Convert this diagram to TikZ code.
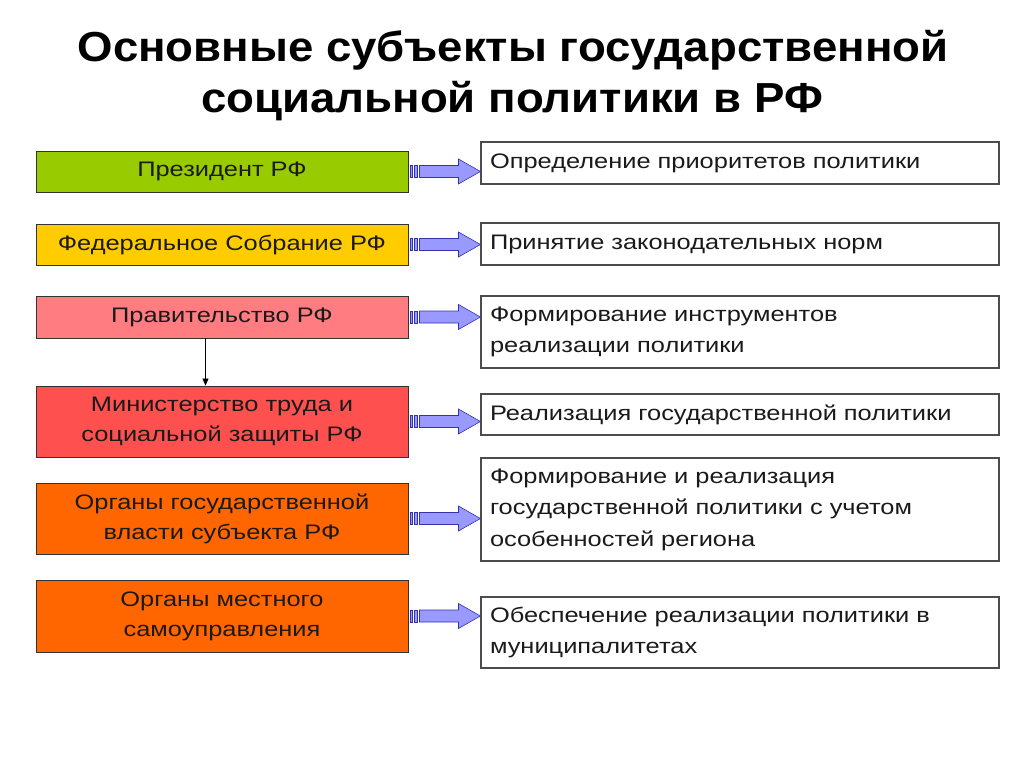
\documentclass[tikz,border=0pt]{standalone}
\usepackage{fontspec}
\setmainfont[FakeStretch=1.21]{Liberation Sans}
\newfontfamily\titlefont[FakeStretch=1.085]{Liberation Sans}
\usetikzlibrary{calc,arrows.meta}
\definecolor{cgreen}{HTML}{99CC00}
\definecolor{cgold}{HTML}{FFCC00}
\definecolor{csalmon}{HTML}{FF7C80}
\definecolor{cred}{HTML}{FF5050}
\definecolor{corange}{HTML}{FF6600}
\definecolor{carrow}{HTML}{9999FF}
\definecolor{carrowline}{HTML}{3333AA}
\definecolor{ctext}{HTML}{1A1A1A}
\tikzset{
  leftbox/.style={draw=black!80, line width=0.9pt, minimum width=372pt, inner sep=2pt,
    align=center, font=\fontsize{21}{30}\selectfont, text=ctext},
  rightbox/.style={draw=black!70, line width=1.1pt, minimum width=518pt, inner sep=2pt,
    text width=500pt, align=left, font=\fontsize{21}{31.5}\selectfont, text=ctext},
  arrowbody/.style={draw=carrowline, fill=carrow, line width=0.6pt, line join=miter},
  titlestyle/.style={font=\titlefont\bfseries\fontsize{42}{51}\selectfont, text=black}
}
\newcommand{\stripearrow}[2]{%
  \draw[arrowbody] ($(#1)+(11,6)$) -- ($(#2)+(-22,6)$) -- ($(#2)+(-22,12.5)$) -- (#2)
    -- ($(#2)+(-22,-12.5)$) -- ($(#2)+(-22,-6)$) -- ($(#1)+(11,-6)$) -- cycle;
  \draw[arrowbody] ($(#1)+(2,-6)$) rectangle ($(#1)+(4,6)$);
  \draw[arrowbody] ($(#1)+(6,-6)$) rectangle ($(#1)+(9,6)$);
}
\begin{document}
\begin{tikzpicture}[x=1pt,y=-1pt]
\useasboundingbox[fill=white] (0,0) rectangle (1024,767);
% title
\node[titlestyle, anchor=base] (T1) at (513,62) {Основные субъекты государственной};
\node[titlestyle, anchor=base] (T2) at (512,113) {социальной политики в РФ};
% left boxes
\node[leftbox, fill=cgreen, minimum height=41pt] (L1) at (222,171.5) {Президент РФ};
\node[leftbox, fill=cgold, minimum height=41pt] (L2) at (222,244.5) {Федеральное Собрание РФ};
\node[leftbox, fill=csalmon, minimum height=42pt] (L3) at (222,317) {Правительство РФ};
\node[leftbox, fill=cred, minimum height=71pt] (L4) at (222,421.5) {Министерство труда и\\социальной защиты РФ};
\node[leftbox, fill=corange, minimum height=71pt] (L5) at (222,518.5) {Органы государственной\\власти субъекта РФ};
\node[leftbox, fill=corange, minimum height=72pt] (L6) at (222,616) {Органы местного\\самоуправления};
% right boxes
\node[rightbox, minimum height=42pt] (R1) at (740,163) {Определение приоритетов политики};
\node[rightbox, minimum height=42pt] (R2) at (740,244) {Принятие законодательных норм};
\node[rightbox, minimum height=72pt] (R3) at (740,332) {Формирование инструментов\\реализации политики};
\node[rightbox, minimum height=41pt] (R4) at (740,414.5) {Реализация государственной политики};
\node[rightbox, minimum height=103pt] (R5) at (740,509.5) {Формирование и реализация\\государственной политики с учетом\\особенностей региона};
\node[rightbox, minimum height=71pt] (R6) at (740,632.5) {Обеспечение реализации политики в\\муниципалитетах};
% arrows
\foreach \i in {1,...,6}{
  \coordinate (A\i) at (L\i.east);
  \coordinate (B\i) at (L\i.east -| R\i.west);
  \stripearrow{A\i}{B\i}
}
% vertical connector
\draw[line width=0.8pt, -{Triangle[length=7pt,width=6pt]}] ([xshift=-16.5pt]L3.south) -- ([xshift=-16.5pt]L4.north);
\end{tikzpicture}
\end{document}
